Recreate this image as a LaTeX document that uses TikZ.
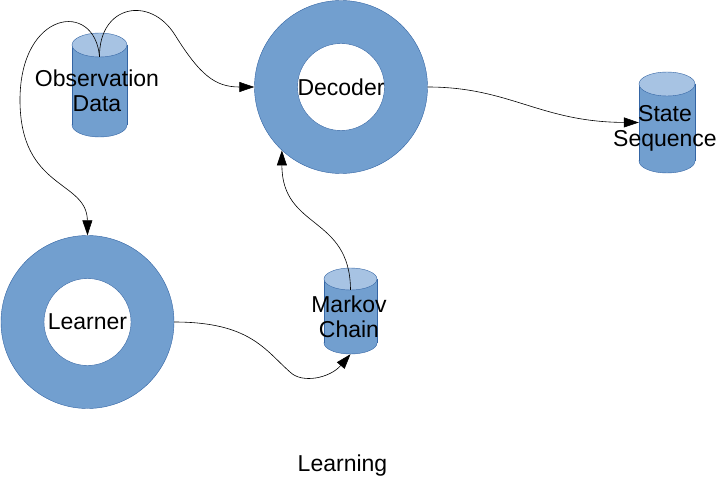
\documentclass[tikz,border=0pt]{standalone}
\usepackage{fontspec}
\setmainfont{Liberation Sans}
\usetikzlibrary{arrows.meta}

\definecolor{bodyblue}{HTML}{729FCF}
\definecolor{topblue}{HTML}{A7C3E3}
\definecolor{edgeblue}{HTML}{3465A4}

\tikzset{
  ring/.style={circle, draw=edgeblue, fill=bodyblue, minimum size=173pt, inner sep=0pt,
    font=\fontsize{23}{25}\selectfont,
    path picture={\draw[edgeblue, fill=white] (path picture bounding box.center) circle (43.5pt);}},
  lbl/.style={font=\fontsize{23}{25}\selectfont, align=center, inner sep=0pt},
  flow/.style={-{Triangle[length=15pt,width=10pt]}, line width=0.6pt},
}

% cilindro: nombre, x, y, media anchura, media altura, radio de la tapa
\newcommand{\datastore}[6]{
  \node[minimum width=2*#4pt, minimum height=2*#5pt, inner sep=0pt] (#1) at (#2,#3) {};
  \filldraw[edgeblue, fill=bodyblue] (#2,#3+#5-#6) ellipse [x radius=#4, y radius=#6];
  \fill[bodyblue] (#2-#4,#3-#5+#6) rectangle (#2+#4,#3+#5-#6);
  \draw[edgeblue] (#2-#4,#3-#5+#6) -- (#2-#4,#3+#5-#6)
    (#2+#4,#3-#5+#6) -- (#2+#4,#3+#5-#6);
  \filldraw[edgeblue, fill=topblue] (#2,#3-#5+#6) ellipse [x radius=#4, y radius=#6];
}

\begin{document}
\begin{tikzpicture}[x=1pt,y=-1pt]
  \useasboundingbox (0,0) rectangle (719,481);

  % Anillos
  \node[ring] (dec) at (341,87) {Decoder};
  \node[ring] (lrn) at (87.5,322) {Learner};

  % Cilindros
  \datastore{obs}{99.5}{85}{27.5}{52}{12}
  \datastore{mkv}{350.5}{311}{26.5}{43}{11}
  \datastore{st}{667}{122.5}{28}{50.5}{12}
  \node[lbl] (obstext) at (97,91) {Observation\\Data};
  \node[lbl] (mkvtext) at (349,317) {Markov\\Chain};
  \node[lbl] (sttext) at (665,128) {State\\Sequence};
  \coordinate (obsin) at ([yshift=-24pt]obs.north);
  \coordinate (mkvin) at ([yshift=-22pt]mkv.north);

  % Titulo
  \node[lbl, anchor=base] (title) at (342.5,471.7) {Learning};

  % Flechas
  \draw[flow] (obsin) .. controls (99,5) and (150,-5) .. (175,35)
    .. controls (200,75) and (215,87) .. (dec.west);
  \draw[flow] (obsin) .. controls (95,0) and (20,10) .. (20,100)
    .. controls (20,190) and (87,180) .. (lrn.north);
  \draw[flow] (dec.east) .. controls (510,87) and (540,122) .. (st.west);
  \draw[flow] (lrn.east) .. controls (250,322) and (265,350) .. (290,372)
    .. controls (302,384) and (330,378) .. (mkv.south);
  \draw[flow] (mkvin) .. controls (350,215) and (282,230) .. (dec.227);
\end{tikzpicture}
\end{document}
